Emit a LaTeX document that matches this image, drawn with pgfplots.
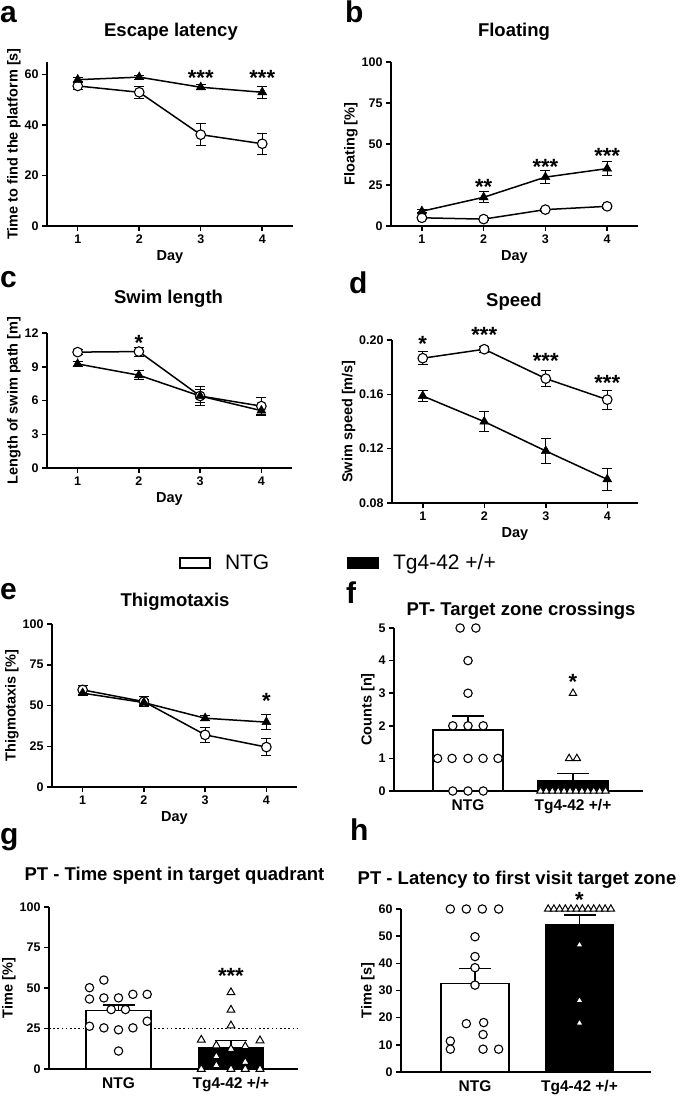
\documentclass[border=0pt]{standalone}
\usepackage{fontspec}
\setmainfont{Liberation Sans}
\usepackage{pgfplots}
\pgfplotsset{compat=1.18}

\newcommand\tickfont{\fontsize{12.5}{14}\selectfont\bfseries}
\newcommand\labfont{\fontsize{14.5}{16}\selectfont\bfseries}
\newcommand\titfont{\fontsize{18.5}{20}\selectfont\bfseries}
\newcommand\letfont{\fontsize{30}{32}\selectfont\bfseries}
\newcommand\starfont{\fontsize{22}{24}\selectfont\bfseries}
\newcommand\catfont{\fontsize{15.5}{17}\selectfont\bfseries}
\newcommand\legfont{\fontsize{21}{23}\selectfont}

\pgfplotsset{
  panel/.style={
    scale only axis, anchor=south west, clip=false,
    axis x line=bottom, axis y line=left,
    axis line style={-, line width=1.5pt, black},
    tick align=outside, major tick length=5pt,
    tick style={line width=1.5pt, black},
    tick label style={font=\tickfont},
    /pgf/number format/assume math mode=true,
    label style={font=\labfont}, ylabel shift=-3pt,
    ymin=0,
  },
  linepanel/.style={panel, xmin=0.5, xmax=4.5, xtick={1,2,3,4}, xlabel={Day}},
  barpanel/.style={panel, xtick={0,1}, xticklabels={NTG,{Tg4-42 +/+}},
    xticklabel style={font=\catfont}, xtick style={draw=none}},
  ntg/.style={black, line width=1.5pt, mark=*, mark size=4.8pt,
    mark options={fill=white, draw=black, line width=1.1pt},
    error bars/.cd, y dir=both, y explicit,
    error bar style={line width=0.9pt, black},
    error mark options={rotate=90, mark size=5pt, line width=0.9pt, black}},
  tg/.style={black, line width=1.5pt, mark=triangle*, mark size=5.2pt,
    mark options={fill=black, draw=black, line width=0.5pt},
    error bars/.cd, y dir=both, y explicit,
    error bar style={line width=0.9pt, black},
    error mark options={rotate=90, mark size=5pt, line width=0.9pt, black}},
  whitebar/.style={ybar, bar width=#1, fill=white, draw=black, line width=1.5pt,
    error bars/.cd, y dir=plus, y explicit,
    error bar style={line width=1.1pt, black},
    error mark options={rotate=90, mark size=16pt, line width=1.1pt, black}},
  blackbar/.style={ybar, bar width=#1, fill=black, draw=black, line width=1.5pt,
    error bars/.cd, y dir=plus, y explicit,
    error bar style={line width=1.1pt, black},
    error mark options={rotate=90, mark size=16pt, line width=1.1pt, black}},
  dotc/.style={only marks, mark=*, mark size=4.2pt,
    mark options={fill=white, draw=black, line width=1.1pt}},
  dott/.style={only marks, mark=triangle*, mark size=#1,
    mark options={fill=white, draw=black, line width=1pt}},
}
\tikzset{star/.style={font=\starfont, yshift=-4.5pt, inner sep=0pt}}

\begin{document}
\begin{tikzpicture}
\useasboundingbox (0pt,0pt) rectangle (689pt,-1097pt);

% ---- a: escape latency
\begin{axis}[linepanel, at={(47pt,-226pt)}, width=246pt, height=164pt,
  ymax=65, ytick={0,20,40,60}, ylabel={Time to find the platform [s]}]
\addplot[ntg] coordinates {(1,55.5) +- (0,1.2) (2,53) +- (0,2.5) (3,36.2) +- (0,4.3) (4,32.6) +- (0,4.2)};
\addplot[tg] coordinates {(1,58) +- (0,0.8) (2,59) +- (0,0.8) (3,55) +- (0,1.0) (4,53) +- (0,2.5)};
\node[star] at (axis cs:3,60.4) {***};
\node[star] at (axis cs:4,60.4) {***};
\end{axis}

% ---- b: floating
\begin{axis}[linepanel, at={(391pt,-226pt)}, width=247pt, height=164pt,
  ymax=100, ytick={0,25,50,75,100}, ylabel={Floating [\%]}]
\addplot[ntg] coordinates {(1,5) +- (0,0.8) (2,4.2) +- (0,0.8) (3,10) +- (0,1) (4,12) +- (0,1)};
\addplot[tg] coordinates {(1,9) +- (0,1) (2,17.5) +- (0,3.3) (3,29.8) +- (0,3.9) (4,35) +- (0,4.2)};
\node[star] at (axis cs:2,26.4) {**};
\node[star] at (axis cs:3,38.6) {***};
\node[star] at (axis cs:4,45.7) {***};
\end{axis}

% ---- c: swim length
\begin{axis}[linepanel, at={(47pt,-468pt)}, width=245pt, height=135pt,
  ymax=12, ytick={0,3,6,9,12}, ylabel={Length of swim path [m]}]
\addplot[ntg] coordinates {(1,10.3) +- (0,0.2) (2,10.35) +- (0,0.4) (3,6.4) +- (0,0.85) (4,5.5) +- (0,0.8)};
\addplot[tg] coordinates {(1,9.25) +- (0,0.2) (2,8.25) +- (0,0.4) (3,6.4) +- (0,0.6) (4,5.1) +- (0,0.35)};
\node[star] at (axis cs:2,11.5) {*};
\end{axis}

% ---- d: speed
\begin{axis}[linepanel, at={(392pt,-503pt)}, width=246pt, height=163pt,
  ymin=0.08, ymax=0.2, ytick={0.08,0.12,0.16,0.20}, ylabel={Swim speed [m/s]},
  yticklabel style={/pgf/number format/.cd, fixed, fixed zerofill, precision=2}]
\addplot[ntg] coordinates {(1,0.1866) +- (0,0.0049) (2,0.1932) +- (0,0.002) (3,0.1716) +- (0,0.0061) (4,0.1561) +- (0,0.0069)};
\addplot[tg] coordinates {(1,0.1588) +- (0,0.0043) (2,0.1399) +- (0,0.0074) (3,0.1183) +- (0,0.0091) (4,0.0974) +- (0,0.0079)};
\node[star] at (axis cs:1,0.2005) {*};
\node[star] at (axis cs:2,0.2067) {***};
\node[star] at (axis cs:3,0.1882) {***};
\node[star] at (axis cs:4,0.1718) {***};
\end{axis}

% ---- legend
\begin{axis}[hide axis, scale only axis, width=1pt, height=1pt, anchor=west,
  at={(176pt,-563pt)}, xmin=0, xmax=1, ymin=0, ymax=1,
  legend image code/.code={\draw[#1] (0pt,-5pt) rectangle (30pt,5pt);},
  legend style={at={(0,0.5)}, anchor=west, draw=none, fill=none, font=\legfont,
    legend columns=2,
    /tikz/every odd column/.append style={column sep=12pt},
    /tikz/every even column/.append style={column sep=76pt}}]
\addlegendimage{draw=black, fill=white, line width=1.8pt}
\addlegendentry{NTG}
\addlegendimage{draw=black, fill=black, line width=1.8pt}
\addlegendentry{Tg4-42 +/+}
\end{axis}

% ---- e: thigmotaxis
\begin{axis}[linepanel, at={(52pt,-787pt)}, width=245pt, height=163pt,
  ymax=100, ytick={0,25,50,75,100}, ylabel={Thigmotaxis [\%]}]
\addplot[ntg] coordinates {(1,59.6) +- (0,3) (2,52.4) +- (0,3.2) (3,32) +- (0,4.4) (4,24.5) +- (0,5.3)};
\addplot[tg] coordinates {(1,57.6) +- (0,1.5) (2,51.8) +- (0,2) (3,42.2) +- (0,1.5) (4,39.8) +- (0,4.7)};
\node[star] at (axis cs:4,55.4) {*};
\end{axis}

% ---- f: target zone crossings
\begin{axis}[barpanel, at={(394pt,-791pt)}, width=249pt, height=163pt,
  xmin=-0.705, xmax=1.667, ymax=5, ytick={0,1,2,3,4,5}, ylabel={Counts [n]}]
\addplot[whitebar=70pt] coordinates {(0,1.87) +- (0,0.43)};
\addplot[blackbar=70pt] coordinates {(1,0.33) +- (0,0.21)};
\addplot[dotc] coordinates {
  (-0.145,0) (0,0) (0.145,0)
  (-0.29,1) (-0.152,1) (0,1) (0.143,1) (0.286,1)
  (-0.145,2) (0,2) (0.145,2)
  (0,3) (0,4) (-0.075,5) (0.075,5)};
\addplot[dott=4.2pt] coordinates {
  (1,3) (0.963,1) (1.037,1)
  (0.69,0) (0.746,0) (0.803,0) (0.859,0) (0.915,0) (0.972,0)
  (1.028,0) (1.085,0) (1.141,0) (1.197,0) (1.254,0) (1.31,0)};
\node[star] at (axis cs:1,3.49) {*};
\end{axis}

% ---- g: time in target quadrant
\begin{axis}[barpanel, at={(49pt,-1069pt)}, width=249pt, height=162pt,
  xmin=-0.618, xmax=1.596, ymax=100, ytick={0,25,50,75,100}, ylabel={Time [\%]}]
\addplot[black, line width=1.3pt, dash pattern=on 1.6pt off 2.6pt] coordinates {(-0.618,25) (1.596,25)};
\addplot[whitebar=65pt] coordinates {(0,36.2) +- (0,3.3)};
\addplot[blackbar=65pt] coordinates {(1,13.4) +- (0,4)};
\addplot[dotc] coordinates {
  (-0.258,50.2) (-0.13,54.9) (-0.258,43.2) (-0.13,43.9) (0,43.9) (0.128,46.1) (0.255,46.1)
  (-0.065,36.7) (0.062,36.7) (-0.258,26.4) (-0.13,25.4) (0,24.2) (0.128,25.4) (0.255,29.5)
  (0,11.1)};
\addplot[dott=4.5pt] coordinates {
  (1,47.3) (1,36.5) (1,26.8) (0.736,18) (1.258,17.6) (0.87,14.5) (1.127,13.9) (1,12.3)
  (0.87,7.8) (1.127,4.3) (0.87,2.3) (0.736,0) (1,0) (1.127,0) (1.258,0)};
\node[star] at (axis cs:1,60) {***};
\end{axis}

% ---- h: latency to first visit
\begin{axis}[barpanel, at={(401pt,-1072pt)}, width=250pt, height=163pt,
  xmin=-0.708, xmax=1.684, ymax=60, ytick={0,10,20,30,40,50,60}, ylabel={Time [s]}]
\addplot[whitebar=68pt] coordinates {(0,32.6) +- (0,5.6)};
\addplot[blackbar=68pt] coordinates {(1,54.2) +- (0,3.6)};
\addplot[dotc] coordinates {
  (-0.236,60) (-0.083,60) (0.07,60) (0.226,60) (0,49.8) (0,42.5) (0,38.4) (0,32)
  (-0.083,17.8) (0.083,18.2) (0.077,13.8) (-0.236,11.4) (-0.236,8.4) (0.077,8.4) (0.226,8.4)};
\addplot[dott=4.2pt] coordinates {
  (0.7,60) (0.755,60) (0.809,60) (0.864,60) (0.918,60) (0.973,60)
  (1.027,60) (1.082,60) (1.136,60) (1.191,60) (1.245,60) (1.3,60)
  (1,46.8) (1,26.3) (1,18)};
\node[star] at (axis cs:1,65.1) {*};
\end{axis}

% ---- titles
\node[font=\titfont, anchor=base] at (171pt,-37pt) {Escape latency};
\node[font=\titfont, anchor=base] at (514pt,-37pt) {Floating};
\node[font=\titfont, anchor=base] at (168.5pt,-303pt) {Swim length};
\node[font=\titfont, anchor=base] at (514pt,-306.7pt) {Speed};
\node[font=\titfont, anchor=base] at (175pt,-606.7pt) {Thigmotaxis};
\node[font=\titfont, anchor=base] at (521pt,-615pt) {PT- Target zone crossings};
\node[font=\titfont, anchor=base] at (174.5pt,-880pt) {PT - Time spent in target quadrant};
\node[font=\titfont, anchor=base] at (517pt,-884pt) {PT - Latency to first visit target zone};

% ---- panel letters
\node[font=\letfont, anchor=base west, inner sep=0pt] at (0pt,-23pt) {a};
\node[font=\letfont, anchor=base west, inner sep=0pt] at (345pt,-23pt) {b};
\node[font=\letfont, anchor=base west, inner sep=0pt] at (0pt,-287pt) {c};
\node[font=\letfont, anchor=base west, inner sep=0pt] at (349pt,-293pt) {d};
\node[font=\letfont, anchor=base west, inner sep=0pt] at (0pt,-599pt) {e};
\node[font=\letfont, anchor=base west, inner sep=0pt] at (346pt,-603pt) {f};
\node[font=\letfont, anchor=base west, inner sep=0pt] at (0pt,-844pt) {g};
\node[font=\letfont, anchor=base west, inner sep=0pt] at (350pt,-840pt) {h};
\end{tikzpicture}
\end{document}
